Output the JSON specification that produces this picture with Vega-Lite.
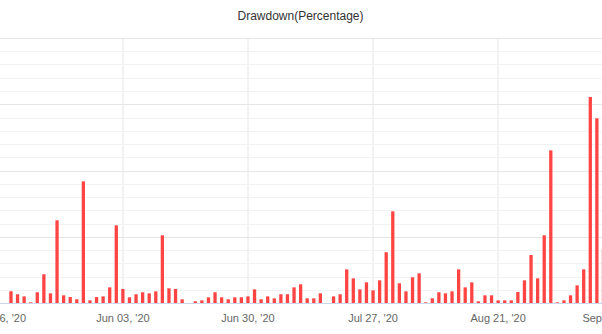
{
  "$schema": "https://vega.github.io/schema/vega-lite/v6.json",
  "width": 632,
  "height": 265,
  "autosize": {"type": "none"},
  "padding": {"left": -5.5, "right": -24.5, "top": 38, "bottom": 31},
  "background": "#ffffff",
  "config": {"view": {"stroke": null}, "font": "Liberation Sans"},
  "title": {
    "text": "Drawdown(Percentage)",
    "fontSize": 12,
    "fontWeight": "normal",
    "color": "#333333",
    "anchor": "middle",
    "frame": "group",
    "baseline": "alphabetic",
    "offset": 6,
    "dx": -10
  },
  "data": {
    "values": [
      {"date": "2020-05-08", "v": 0.88}, {"date": "2020-05-11", "v": 0.66}, {"date": "2020-05-12", "v": 0.5},
      {"date": "2020-05-13", "v": 0.05}, {"date": "2020-05-14", "v": 0.81}, {"date": "2020-05-15", "v": 2.17},
      {"date": "2020-05-18", "v": 0.73}, {"date": "2020-05-19", "v": 6.24}, {"date": "2020-05-20", "v": 0.58},
      {"date": "2020-05-21", "v": 0.45}, {"date": "2020-05-22", "v": 0.28}, {"date": "2020-05-26", "v": 9.18},
      {"date": "2020-05-27", "v": 0.2}, {"date": "2020-05-28", "v": 0.45}, {"date": "2020-05-29", "v": 0.5},
      {"date": "2020-06-01", "v": 1.18}, {"date": "2020-06-02", "v": 5.86}, {"date": "2020-06-03", "v": 1.06},
      {"date": "2020-06-04", "v": 0.43}, {"date": "2020-06-05", "v": 0.66}, {"date": "2020-06-08", "v": 0.81},
      {"date": "2020-06-09", "v": 0.73}, {"date": "2020-06-10", "v": 0.88}, {"date": "2020-06-11", "v": 5.11},
      {"date": "2020-06-12", "v": 1.11}, {"date": "2020-06-15", "v": 1.06}, {"date": "2020-06-16", "v": 0.28},
      {"date": "2020-06-17", "v": 0}, {"date": "2020-06-18", "v": 0.13}, {"date": "2020-06-19", "v": 0.2},
      {"date": "2020-06-22", "v": 0.43}, {"date": "2020-06-23", "v": 0.81}, {"date": "2020-06-24", "v": 0.43},
      {"date": "2020-06-25", "v": 0.28}, {"date": "2020-06-26", "v": 0.43}, {"date": "2020-06-29", "v": 0.43},
      {"date": "2020-06-30", "v": 0.5}, {"date": "2020-07-01", "v": 1.03}, {"date": "2020-07-02", "v": 0.28},
      {"date": "2020-07-03", "v": 0.5}, {"date": "2020-07-06", "v": 0.35}, {"date": "2020-07-07", "v": 0.66},
      {"date": "2020-07-08", "v": 0.66}, {"date": "2020-07-09", "v": 1.18}, {"date": "2020-07-10", "v": 1.41},
      {"date": "2020-07-13", "v": 0.35}, {"date": "2020-07-14", "v": 0.35}, {"date": "2020-07-15", "v": 0.73},
      {"date": "2020-07-16", "v": 0}, {"date": "2020-07-17", "v": 0.5}, {"date": "2020-07-20", "v": 0.66},
      {"date": "2020-07-21", "v": 2.54}, {"date": "2020-07-22", "v": 1.86}, {"date": "2020-07-23", "v": 1.03},
      {"date": "2020-07-24", "v": 1.56}, {"date": "2020-07-27", "v": 0.96}, {"date": "2020-07-28", "v": 1.71},
      {"date": "2020-07-29", "v": 3.83}, {"date": "2020-07-30", "v": 6.92}, {"date": "2020-07-31", "v": 1.49},
      {"date": "2020-08-03", "v": 0.88}, {"date": "2020-08-04", "v": 1.94}, {"date": "2020-08-05", "v": 2.24},
      {"date": "2020-08-06", "v": 0.05}, {"date": "2020-08-07", "v": 0.35}, {"date": "2020-08-10", "v": 0.81},
      {"date": "2020-08-11", "v": 0.73}, {"date": "2020-08-12", "v": 0.88}, {"date": "2020-08-13", "v": 2.54},
      {"date": "2020-08-14", "v": 1.18}, {"date": "2020-08-17", "v": 1.56}, {"date": "2020-08-18", "v": 0.13},
      {"date": "2020-08-19", "v": 0.58}, {"date": "2020-08-20", "v": 0.58}, {"date": "2020-08-21", "v": 0.2},
      {"date": "2020-08-24", "v": 0.2}, {"date": "2020-08-25", "v": 0.2}, {"date": "2020-08-26", "v": 0.83},
      {"date": "2020-08-27", "v": 1.71}, {"date": "2020-08-28", "v": 3.62}, {"date": "2020-08-31", "v": 1.86},
      {"date": "2020-09-01", "v": 5.11}, {"date": "2020-09-02", "v": 11.52}, {"date": "2020-09-03", "v": 0.05},
      {"date": "2020-09-04", "v": 0.2}, {"date": "2020-09-07", "v": 0.58}, {"date": "2020-09-08", "v": 1.33},
      {"date": "2020-09-09", "v": 2.54}, {"date": "2020-09-10", "v": 15.55}, {"date": "2020-09-11", "v": 13.94},
      {"date": "2020-09-14", "v": 4.0}
    ]
  },
  "mark": {"type": "bar", "color": "#ff4444"},
  "encoding": {
    "x": {
      "field": "date",
      "type": "ordinal",
      "scale": {
        "domain": [
          "2020-05-06","2020-05-07","2020-05-08","2020-05-11","2020-05-12","2020-05-13","2020-05-14","2020-05-15",
          "2020-05-18","2020-05-19","2020-05-20","2020-05-21","2020-05-22","2020-05-26","2020-05-27","2020-05-28","2020-05-29",
          "2020-06-01","2020-06-02","2020-06-03","2020-06-04","2020-06-05","2020-06-08","2020-06-09","2020-06-10","2020-06-11","2020-06-12",
          "2020-06-15","2020-06-16","2020-06-17","2020-06-18","2020-06-19","2020-06-22","2020-06-23","2020-06-24","2020-06-25","2020-06-26",
          "2020-06-29","2020-06-30",
          "2020-07-01","2020-07-02","2020-07-03","2020-07-06","2020-07-07","2020-07-08","2020-07-09","2020-07-10",
          "2020-07-13","2020-07-14","2020-07-15","2020-07-16","2020-07-17","2020-07-20","2020-07-21","2020-07-22","2020-07-23","2020-07-24",
          "2020-07-27","2020-07-28","2020-07-29","2020-07-30","2020-07-31",
          "2020-08-03","2020-08-04","2020-08-05","2020-08-06","2020-08-07","2020-08-10","2020-08-11","2020-08-12","2020-08-13","2020-08-14",
          "2020-08-17","2020-08-18","2020-08-19","2020-08-20","2020-08-21","2020-08-24","2020-08-25","2020-08-26","2020-08-27","2020-08-28",
          "2020-08-31",
          "2020-09-01","2020-09-02","2020-09-03","2020-09-04","2020-09-07","2020-09-08","2020-09-09","2020-09-10","2020-09-11",
          "2020-09-14","2020-09-15","2020-09-16","2020-09-17"
        ],
        "paddingInner": 0.5,
        "paddingOuter": 0.25
      },
      "axis": {
        "values": ["2020-05-06", "2020-06-03", "2020-06-30", "2020-07-27", "2020-08-21", "2020-09-15"],
        "labelExpr": "utcFormat(toDate(datum.value), \"%b %d, '%y\")",
        "title": null,
        "labelAngle": 0,
        "labelFontSize": 11,
        "labelColor": "#666666",
        "labelBaseline": "alphabetic",
        "labelPadding": 18.5,
        "labelOverlap": false,
        "labelFlush": false,
        "ticks": false,
        "tickSize": 0,
        "domainColor": "#ccd6eb",
        "domainWidth": 1,
        "grid": true,
        "gridColor": "#e6e6e6",
        "gridWidth": 1
      }
    },
    "y": {
      "field": "v",
      "type": "quantitative",
      "scale": {"domain": [0, 20], "nice": false, "zero": true},
      "axis": {
        "values": [0,1,2,3,4,5,6,7,8,9,10,11,12,13,14,15,16,17,18,19,20],
        "title": null,
        "labels": false,
        "ticks": false,
        "domain": false,
        "grid": true,
        "gridWidth": 1,
        "gridColor": {"condition": {"test": "datum.value % 5 === 0", "value": "#e6e6e6"}, "value": "#f2f2f2"}
      }
    }
  }
}
